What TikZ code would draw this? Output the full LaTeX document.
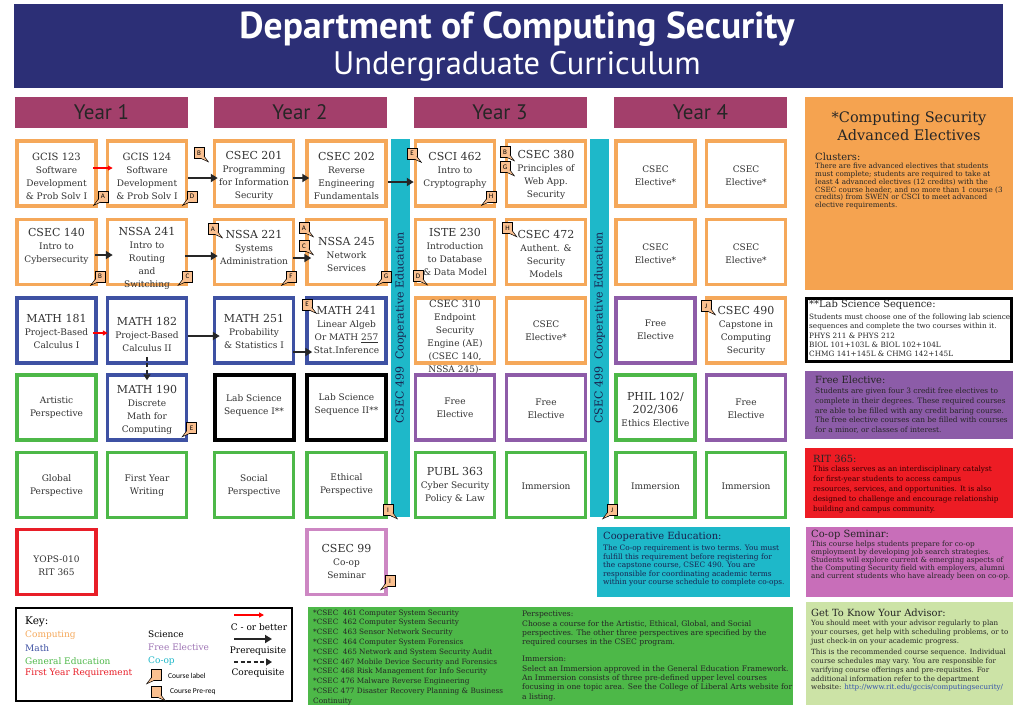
\documentclass[tikz,border=0pt]{standalone}
\usepackage{fontspec}
\setmainfont{DejaVu Serif}
\newfontfamily\hdrfont{PT Sans}
\newfontfamily\keyfont{Carlito}
\usetikzlibrary{arrows.meta,calc}
\definecolor{navy}{RGB}{44,47,118}
\definecolor{maroon}{RGB}{163,63,107}
\definecolor{corange}{RGB}{245,168,90}
\definecolor{cblue}{RGB}{62,81,163}
\definecolor{cgreen}{RGB}{77,184,72}
\definecolor{cpurple}{RGB}{142,92,168}
\definecolor{cred}{RGB}{232,30,40}
\definecolor{cteal}{RGB}{30,184,201}
\definecolor{cpink}{RGB}{205,135,195}
\definecolor{porange}{RGB}{245,163,80}
\definecolor{ppurple}{RGB}{140,92,168}
\definecolor{pred}{RGB}{237,28,36}
\definecolor{ppink}{RGB}{200,110,185}
\definecolor{pgreen}{RGB}{77,184,72}
\definecolor{plight}{RGB}{204,227,166}
\definecolor{lblfill}{RGB}{250,192,144}
\definecolor{txtgray}{RGB}{50,50,50}
\definecolor{darknavy}{RGB}{25,35,80}
\definecolor{urlblue}{RGB}{50,80,170}
\newcommand\fs[2]{\fontsize{#1}{#2}\selectfont}
\newcommand\cd[2][11]{{\fs{#1}{13}#2}}
\newcommand\cbx[4]{\node[cbox,#4] (#1) at (#2,#3) {};}
\newcommand\ctx[3]{\node[ctext] (#1t) at ($(#1)+(0,#2)$) {#3};}
\newcommand\lbl[4]{\node[lblbox] (#1) at (#2) {#3};
 \ifx L#4
  \draw[lbltail] ($(#1.south west)+(0.5,-3)$) -- ($(#1.south west)+(-4,3)$) -- ($(#1.south west)+(3,-0.2)$);
 \else
  \draw[lbltail] ($(#1.south east)+(-0.5,-3)$) -- ($(#1.south east)+(4,3)$) -- ($(#1.south east)+(-3,-0.2)$);
 \fi}
\tikzset{
 cbox/.style={draw, line width=3.5pt, fill=white, minimum width=79pt, minimum height=65pt, inner sep=0pt},
 corg/.style={draw=corange}, cblu/.style={draw=cblue}, cgrn/.style={draw=cgreen},
 cpur/.style={draw=cpurple}, cblk/.style={draw=black, line width=4pt}, cred/.style={draw=cred}, cpnk/.style={draw=cpink},
 ctext/.style={align=center, inner sep=0pt, font=\fs{9}{13}, text=txtgray},
 yearbar/.style={fill=maroon, minimum width=173pt, minimum height=31pt, inner sep=0pt, font=\hdrfont\fs{21}{24}, text=black!85},
 coopbar/.style={fill=cteal, rotate=90, minimum width=378pt, minimum height=19pt, inner sep=0pt, font=\fs{11}{13}, text=darknavy},
 panel/.style={anchor=north west, inner sep=0pt, outer sep=0pt},
 ptitle/.style={anchor=west, inner sep=0pt, font=\fs{9.9}{12}, text=black!85},
 pbody/.style={anchor=north west, inner sep=0pt, align=left, text=black!85},
 lblbox/.style={draw=black, line width=0.6pt, fill=lblfill, minimum width=10pt, minimum height=11pt, inner sep=0pt, font=\keyfont\fs{7}{8}},
 lbltail/.style={draw=black, line width=0.5pt, fill=lblfill},
 prereq/.style={line width=2.3pt, black!85, -{Triangle[length=7pt,width=8pt]}},
 cbetter/.style={line width=1.3pt, red, -{Triangle[length=5pt,width=5pt]}},
 coreqarrow/.style={line width=2pt, black!85, dash pattern=on 4pt off 2.5pt, -{Triangle[length=6pt,width=7pt]}},
 keytext/.style={anchor=west, inner sep=0pt, font=\fs{9}{11}}
}
\begin{document}
\begin{tikzpicture}[x=1pt,y=-1pt]
\useasboundingbox[fill=white] (0,0) rectangle (1017,705);
% header
\node[fill=navy, minimum width=989pt, minimum height=84pt, inner sep=0pt] (hdr) at (508.5,46) {};
\node[text=white, font=\hdrfont\bfseries\fs{37.5}{40}, inner sep=0pt] (title1) at (517,29) {Department of Computing Security};
\node[text=white, font=\hdrfont\fs{32.5}{34}, inner sep=0pt] (title2) at (517,66) {Undergraduate Curriculum};
% year bars
\node[yearbar] (y1) at (101.5,112) {Year 1};
\node[yearbar] (y2) at (300,112) {Year 2};
\node[yearbar] (y3) at (500,112) {Year 3};
\node[yearbar] (y4) at (700.5,112) {Year 4};
% boxes
\cbx{g123}{56.5}{173.5}{corg}\cbx{g124}{147}{173.5}{corg}\cbx{c201}{254}{173.5}{corg}\cbx{c202}{346.5}{173.5}{corg}
\cbx{c462}{455}{173.5}{corg}\cbx{c380}{546}{173.5}{corg}\cbx{e71}{655.5}{173.5}{corg}\cbx{e81}{746}{173.5}{corg}
\cbx{c140}{56.5}{252}{corg}\cbx{n241}{147}{252}{corg}\cbx{n221}{254}{252}{corg}\cbx{n245}{346.5}{252}{corg}
\cbx{i230}{455}{252}{corg}\cbx{c472}{546}{252}{corg}\cbx{e72}{655.5}{252}{corg}\cbx{e82}{746}{252}{corg}
\cbx{m181}{56.5}{330.5}{cblu}\cbx{m182}{147}{330.5}{cblu}\cbx{m251}{254}{330.5}{cblu}\cbx{m241}{346.5}{330.5}{cblu}
\cbx{c310}{455}{330.5}{corg}\cbx{e63}{546}{330.5}{corg}\cbx{f73}{655.5}{330.5}{cpur}\cbx{c490}{746}{330.5}{corg}
\cbx{art}{56.5}{407.5}{cgrn}\cbx{m190}{147}{407.5}{cblu}\cbx{lab1}{254}{407.5}{cblk}\cbx{lab2}{346.5}{407.5}{cblk}
\cbx{f54}{455}{407.5}{cpur}\cbx{f64}{546}{407.5}{cpur}\cbx{phil}{655.5}{407.5}{cgrn}\cbx{f84}{746}{407.5}{cpur}
\cbx{glob}{56.5}{485}{cgrn}\cbx{fyw}{147}{485}{cgrn}\cbx{soc}{254}{485}{cgrn}\cbx{eth}{346.5}{485}{cgrn}
\cbx{publ}{455}{485}{cgrn}\cbx{imm6}{546}{485}{cgrn}\cbx{imm7}{655.5}{485}{cgrn}\cbx{imm8}{746}{485}{cgrn}
\cbx{yops}{56.5}{562}{cred}\cbx{c99}{346.5}{562}{cpnk}
% co-op bars
\node[coopbar] (bar1) at (400.5,328) {CSEC 499\ \ Cooperative Education};
\node[coopbar] (bar2) at (599.5,328) {CSEC 499\ \ Cooperative Education};
% course texts
\ctx{g123}{2.5}{\cd[10]{GCIS 123}\\Software\\Development\\\& Prob Solv I}
\ctx{g124}{2.5}{\cd[10]{GCIS 124}\\Software\\Development\\\& Prob Solv I}
\ctx{c201}{2.5}{\cd{CSEC 201}\\Programming\\for Information\\Security}
\ctx{c202}{2}{\cd{CSEC 202}\\Reverse\\Engineering\\Fundamentals}
\ctx{c462}{-3.5}{\cd{CSCI 462}\\Intro to\\Cryptography}
\ctx{c380}{1.5}{\cd{CSEC 380}\\Principles of\\Web App.\\Security}
\ctx{e71}{2.5}{CSEC\\Elective*}
\ctx{e81}{2.5}{CSEC\\Elective*}
\ctx{c140}{-5.5}{\cd{CSEC 140}\\Intro to\\Cybersecurity}
\ctx{n241}{6}{\cd{NSSA 241}\\Intro to\\Routing\\and\\Switching}
\ctx{n221}{-5}{\cd{NSSA 221}\\Systems\\Administration}
\ctx{n245}{2.5}{\cd{NSSA 245}\\Network\\Services}
\ctx{i230}{0}{\cd{ISTE 230}\\Introduction\\to Database\\\& Data Model}
\ctx{c472}{2}{\cd{CSEC 472}\\Authent. \&\\Security\\Models}
\ctx{e72}{1.5}{CSEC\\Elective*}
\ctx{e82}{1.5}{CSEC\\Elective*}
\ctx{m181}{0.5}{\cd{MATH 181}\\Project-Based\\Calculus I}
\ctx{m182}{3.5}{\cd{MATH 182}\\Project-Based\\Calculus II}
\ctx{m251}{0.5}{\cd{MATH 251}\\Probability\\\& Statistics I}
\ctx{m241}{-0.5}{\cd{MATH 241}\\Linear Algeb\\Or MATH \underline{257}\\Stat.Inference}
\ctx{c310}{6.5}{\cd[10]{CSEC 310}\\Endpoint\\Security\\Engine (AE)\\(CSEC 140,\\NSSA 245)-}
\ctx{e63}{0}{CSEC\\Elective*}
\ctx{f73}{-1}{Free\\Elective}
\ctx{c490}{0}{\cd{CSEC 490}\\Capstone in\\Computing\\Security}
\ctx{art}{0}{Artistic\\Perspective}
\ctx{m190}{2}{\cd{MATH 190}\\Discrete\\Math for\\Computing}
\ctx{lab1}{-2}{Lab Science\\Sequence I**}
\ctx{lab2}{-3}{Lab Science\\Sequence II**}
\ctx{f54}{0.5}{Free\\Elective}
\ctx{f64}{1}{Free\\Elective}
\ctx{phil}{1.5}{\cd{PHIL 102/}\\\cd{202/306}\\Ethics Elective}
\ctx{f84}{1}{Free\\Elective}
\ctx{glob}{0.5}{Global\\Perspective}
\ctx{fyw}{0.5}{First Year\\Writing}
\ctx{soc}{0.5}{Social\\Perspective}
\ctx{eth}{-0.5}{Ethical\\Perspective}
\ctx{publ}{0.5}{\cd{PUBL 363}\\Cyber Security\\Policy \& Law}
\ctx{imm6}{1}{Immersion}
\ctx{imm7}{1}{Immersion}
\ctx{imm8}{1}{Immersion}
\ctx{yops}{3.5}{YOPS-010\\RIT 365}
\ctx{c99}{-0.5}{\cd{CSEC 99}\\Co-op\\Seminar}
% arrows
\draw[cbetter] ($(g123.east)+(-5,-5.5)$) -- ($(g124.west)+(7,-5.5)$);
\draw[prereq] ($(g124.east)+(0,4.5)$) -- ($(c201.west)+(5,4.5)$);
\draw[prereq] ($(c201.east)+(-2,4.5)$) -- ($(c202.west)+(4,4.5)$);
\draw[prereq] ($(c202.east)+(0,8.5)$) -- ($(c462.west)+(0,8.5)$);
\draw[prereq] ($(c140.east)+(-3,3)$) -- ($(n241.west)+(7,3)$);
\draw[prereq] ($(n241.east)+(-3,4)$) -- ($(n221.west)+(5,4)$);
\draw[prereq] ($(n221.east)+(-2,6)$) -- ($(n245.west)+(6,6)$);
\draw[cbetter] ($(m181.east)+(-5,2.5)$) -- ($(m182.west)+(2,2.5)$);
\draw[prereq] ($(m182.east)+(0,5.5)$) -- ($(m251.west)+(7,5.5)$);
\draw[prereq] ($(m251.east)+(-2,21.5)$) -- ($(m241.west)+(7,21.5)$);
\draw[coreqarrow] ($(m182.south)+(0,-8)$) -- ($(m190.north)+(0,7)$);
% labels
\lbl{lB1}{199,153}{B}{R}
\lbl{lA1}{103,196.5}{A}{L}
\lbl{lD1}{192,196.5}{D}{L}
\lbl{lB2}{100,276.5}{B}{L}
\lbl{lC1}{187.5,276.5}{C}{L}
\lbl{lA2}{213,229}{A}{R}
\lbl{lF}{291,276.5}{F}{L}
\lbl{lA3}{304,228}{A}{R}
\lbl{lC2}{304,246}{C}{R}
\lbl{lG1}{386,276.5}{G}{L}
\lbl{lE1}{412,153.5}{E}{R}
\lbl{lH1}{491,196.5}{H}{L}
\lbl{lB3}{505,152}{B}{R}
\lbl{lG2}{505,167}{G}{R}
\lbl{lH2}{507.5,228}{H}{R}
\lbl{lD2}{418,276}{D}{R}
\lbl{lE2}{307,304.5}{E}{R}
\lbl{lE3}{191.5,428}{E}{L}
\lbl{lJ1}{706,306}{J}{R}
\lbl{lI1}{388,510}{I}{R}
\lbl{lJ2}{612,510}{J}{L}
\lbl{lI2}{390,581}{I}{L}
% right panels
\node[panel, fill=porange, minimum width=208pt, minimum height=193pt] (pOrange) at (805,97) {};
\node[inner sep=0pt, align=center, font=\fs{14.5}{18}, text=black!85] (pOrangeT) at (909,126) {*Computing Security\\Advanced Electives};
\node[ptitle] (pOrangeS) at (815,157) {Clusters:};
\node[pbody, font=\fs{7.2}{7.8}] (pOrangeB) at (815,163) {There are five advanced electives that students\\must complete; students are required to take at\\least 4 advanced electives (12 credits) with the\\CSEC course header, and no more than 1 course (3\\credits) from SWEN or CSCI to meet advanced\\elective requirements.};
\node[panel, draw=black, line width=3pt, fill=white, minimum width=205pt, minimum height=63pt] (pLab) at (806.5,298.5) {};
\node[ptitle] (pLabT) at (809,305) {**Lab Science Sequence:};
\node[pbody, font=\fs{7.3}{9.2}] (pLabB) at (809,314) {Students must choose one of the following lab science\\sequences and complete the two courses within it.\\PHYS 211 \& PHYS 212\\BIOL 101+103L \& BIOL 102+104L\\CHMG 141+145L \& CHMG 142+145L};
\node[panel, fill=ppurple, minimum width=208pt, minimum height=68pt] (pFree) at (805,371) {};
\node[ptitle] (pFreeT) at (815,380) {Free Elective:};
\node[pbody, font=\fs{7.4}{9.7}] (pFreeB) at (815,388) {Students are given four 3 credit free electives to\\complete in their degrees. These required courses\\are able to be filled with any credit baring course.\\The free elective courses can be filled with courses\\for a minor, or classes of interest.};
\node[panel, fill=pred, minimum width=208pt, minimum height=70pt] (pRit) at (805,448) {};
\node[ptitle] (pRitT) at (813,459) {RIT 365:};
\node[pbody, font=\fs{7.3}{10}, text=black!80!red] (pRitB) at (813,466) {This class serves as an interdisciplinary catalyst\\for first-year students to access campus\\resources, services, and opportunities. It is also\\designed to challenge and encourage relationship\\building and campus community.};
\node[panel, fill=cteal, minimum width=193pt, minimum height=70pt] (pCoop) at (597,527) {};
\node[ptitle, text=darknavy] (pCoopT) at (603,537) {Cooperative Education:};
\node[pbody, font=\fs{7.4}{8.5}, text=darknavy] (pCoopB) at (603,545) {The Co-op requirement is two terms. You must\\fulfill this requirement before registering for\\the capstone course, CSEC 490. You are\\responsible for coordinating academic terms\\within your course schedule to complete co-ops.};
\node[panel, fill=ppink, minimum width=207pt, minimum height=70pt] (pSem) at (806,527) {};
\node[ptitle] (pSemT) at (811,535) {Co-op Seminar:};
\node[pbody, font=\fs{7.2}{8}] (pSemB) at (811,541) {This course helps students prepare for co-op\\employment by developing job search strategies.\\Students will explore current \& emerging aspects of\\the Computing Security field with employers, alumni\\and current students who have already been on co-op.};
\node[panel, fill=plight, minimum width=207pt, minimum height=103pt] (pAdv) at (806,602) {};
\node[ptitle] (pAdvT) at (811,613) {Get To Know Your Advisor:};
\node[pbody, font=\fs{7.1}{8.8}] (pAdvB1) at (811,620) {You should meet with your advisor regularly to plan\\your courses, get help with scheduling problems, or to\\just check-in on your academic progress.};
\node[pbody, font=\fs{7.1}{8.8}] (pAdvB2) at (811,649) {This is the recommended course sequence. Individual\\course schedules may vary. You are responsible for\\varifying course offerings and pre-requisites. For\\additional information refer to the department\\website: {\color{urlblue}http://www.rit.edu/gccis/computingsecurity/}};
% bottom green panel
\node[panel, fill=pgreen, minimum width=485pt, minimum height=98pt] (pGreen) at (308,607) {};
\node[pbody, font=\fs{7.3}{9.8}] (pGreenL) at (313,609.5) {*CSEC\ \ 461 Computer System Security\\*CSEC\ \ 462 Computer System Security\\*CSEC\ \ 463 Sensor Network Security\\*CSEC\ \ 464 Computer System Forensics\\*CSEC\ \ 465 Network and System Security Audit\\*CSEC 467 Mobile Device Security and Forensics\\*CSEC 468 Risk Management for Info Security\\*CSEC 476 Malware Reverse Engineering\\*CSEC 477 Disaster Recovery Planning \& Business\\Continuity};
\node[pbody, font=\fs{7.6}{9.3}] (pGreenR1) at (522,611) {Perspectives:\\Choose a course for the Artistic, Ethical, Global, and Social\\perspectives. The other three perspectives are specified by the\\required courses in the CSEC program.};
\node[pbody, font=\fs{7.6}{9.3}] (pGreenR2) at (522,656) {Immersion:\\Select an Immersion approved in the General Education Framework.\\An Immersion consists of three pre-defined upper level courses\\focusing in one topic area. See the College of Liberal Arts website for\\a listing.};
% key
\node[panel, draw=black, line width=2pt, minimum width=276pt, minimum height=93pt] (keybox) at (16,608) {};
\node[keytext, font=\fs{10.5}{12}] (kKey) at (25,622) {Key:};
\node[keytext, text=corange] (kComp) at (25,635) {Computing};
\node[keytext, text=cblue] (kMath) at (25,648) {Math};
\node[keytext, text=cgreen] (kGen) at (25,661) {General Education};
\node[keytext, text=cred] (kFyr) at (25,673) {First Year Requirement};
\node[keytext] (kSci) at (148,634) {Science};
\node[keytext, text=cpurple!85] (kFree) at (148,647) {Free Elective};
\node[keytext, text=cteal] (kCoop) at (148,661) {Co-op};
\lbl{kIcon1}{156,675}{}{L}
\lbl{kIcon2}{156,692}{}{R}
\node[keytext, font=\keyfont\fs{7.5}{9}] (kLab) at (168,676) {Course label};
\node[keytext, font=\keyfont\fs{7.5}{9}] (kPre) at (170,692) {Course Pre-req};
\coordinate (kr1) at (234,615); \coordinate (kr2) at (264,615);
\draw[cbetter] (kr1) -- (kr2);
\node[inner sep=0pt, font=\fs{9}{11}] (kCb) at (259,627) {C - or better};
\coordinate (kp1) at (234,639); \coordinate (kp2) at (272,639);
\draw[prereq] (kp1) -- (kp2);
\node[inner sep=0pt, font=\fs{9}{11}] (kPr) at (258,651) {Prerequisite};
\coordinate (kc1) at (234,662); \coordinate (kc2) at (272,662);
\draw[coreqarrow] (kc1) -- (kc2);
\node[inner sep=0pt, font=\fs{9}{11}] (kCo) at (258,673) {Corequisite};
\end{tikzpicture}
\end{document}
